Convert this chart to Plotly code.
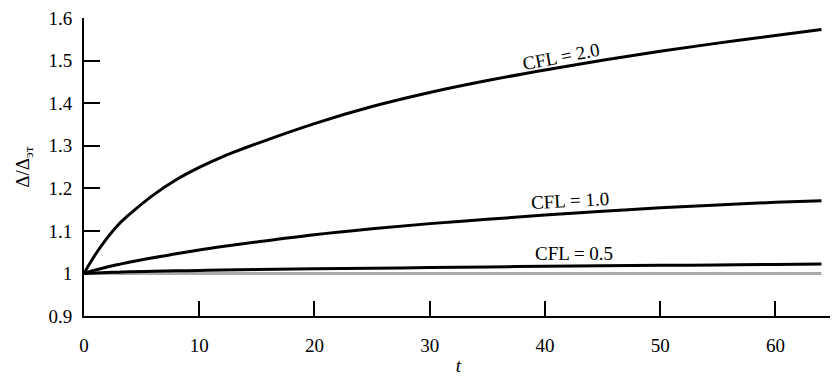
import plotly.graph_objects as go

t = [0, 1, 2, 3, 4, 6, 8, 10, 12, 15, 20, 25, 30, 35, 40, 45, 50, 55, 60, 64]
cfl_20 = [1.0, 1.045, 1.083, 1.115, 1.140, 1.184, 1.220, 1.249, 1.274, 1.305, 1.352,
          1.392, 1.425, 1.453, 1.478, 1.501, 1.522, 1.541, 1.559, 1.573]
cfl_10 = [1.0, 1.008, 1.015, 1.021, 1.027, 1.037, 1.046, 1.055, 1.063, 1.074, 1.091,
          1.105, 1.117, 1.127, 1.137, 1.146, 1.154, 1.161, 1.167, 1.171]
cfl_05 = [1.0, 1.001, 1.002, 1.003, 1.004, 1.005, 1.006, 1.007, 1.008, 1.009, 1.011,
          1.012, 1.014, 1.015, 1.017, 1.018, 1.019, 1.020, 1.021, 1.022]
ref_t = [0, 64]
ref_v = [1.0, 1.0]

labels = ["CFL = 2.0", "CFL = 1.0", "CFL = 0.5"]
label_t = [41.4, 42.2, 42.5]
label_v = [1.51, 1.171, 1.047]

y_ticks = [0.9, 1.0, 1.1, 1.2, 1.3, 1.4, 1.5, 1.6]
y_ticktext = ["0.9", "1", "1.1", "1.2", "1.3", "1.4", "1.5", "1.6"]
x_ticks = [0, 10, 20, 30, 40, 50, 60]

FONT = "Liberation Serif, Times New Roman, DejaVu Serif, serif"

fig = go.Figure()
fig.add_trace(go.Scatter(x=ref_t, y=ref_v, mode="lines",
                         line=dict(color="#aaaaaa", width=3), showlegend=False))
for ys in (cfl_05, cfl_10, cfl_20):
    fig.add_trace(go.Scatter(x=t, y=ys, mode="lines",
                             line=dict(color="black", width=3, shape="spline", smoothing=1.0),
                             showlegend=False))

angles = [-11, -3, 0]
for lab, lx, ly, ang in zip(labels, label_t, label_v, angles):
    fig.add_annotation(x=lx, y=ly, text=lab, showarrow=False, textangle=ang,
                       font=dict(family=FONT, size=19, color="black"))

fig.update_layout(
    width=830, height=378,
    margin=dict(l=76, r=5, t=10, b=70),
    plot_bgcolor="white", paper_bgcolor="white",
    font=dict(family=FONT, size=19, color="black"),
    xaxis=dict(range=[0, 65], tickvals=x_ticks, ticks="inside", ticklen=15, tickwidth=1.5,
               tickcolor="black", showline=True, linecolor="black", linewidth=2,
               showgrid=False, zeroline=False, ticklabelstandoff=11, automargin=False,
               ticklabeloverflow="allow",
               title=dict(text="<i>t</i>", font=dict(family=FONT, size=19), standoff=4)),
    yaxis=dict(range=[0.9, 1.6], tickvals=y_ticks, ticktext=y_ticktext, ticks="inside",
               ticklen=16, tickwidth=1.5, tickcolor="black", showline=True, linecolor="black",
               linewidth=2, showgrid=False, zeroline=False, ticklabelstandoff=6, automargin=False,
               ticklabeloverflow="allow",
               title=dict(text="Δ/Δ<sub>эт</sub>", font=dict(family=FONT, size=19), standoff=14)),
)

fig.write_html("out.html")
